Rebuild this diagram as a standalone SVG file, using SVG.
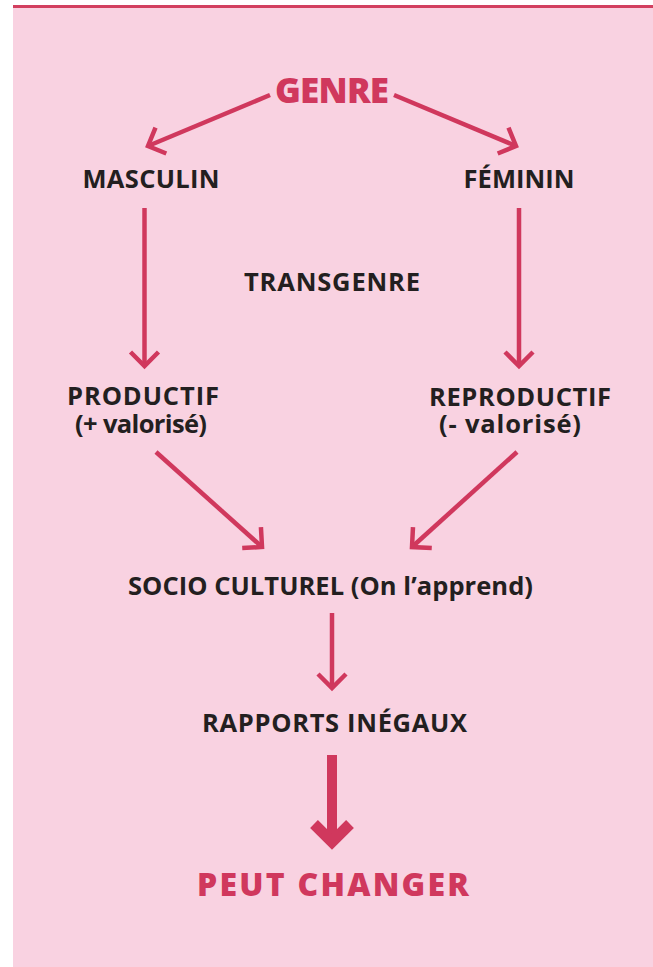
<svg xmlns="http://www.w3.org/2000/svg" width="653" height="967" viewBox="0 0 653 967">
<style>
.t{font-family:"Open Sans","Noto Sans","DejaVu Sans",sans-serif;font-weight:700;fill:#231f20;font-size:25.5px;text-anchor:middle}
.r{fill:#d0385d;font-weight:800}
.a{fill:none;stroke:#d0385d;stroke-width:4.5}
.h{fill:none;stroke:#d0385d;stroke-width:4.5;stroke-linejoin:miter}
</style>
<defs>
<marker id="chev" markerUnits="userSpaceOnUse" viewBox="-20 -20 40 40" markerWidth="40" markerHeight="40" refX="0" refY="0" orient="auto" overflow="visible">
<path class="h" d="M-14,-14 L0,0 L-14,14"/>
</marker>
</defs>
<rect x="13" y="8" width="640" height="959" fill="#f9d2e1"/>
<rect x="13" y="5" width="640" height="3" fill="#d23f5f"/>
<g id="connectors">
<path class="a" d="M270,95 L148,146" marker-end="url(#chev)"/>
<path class="a" d="M394,95 L516,146" marker-end="url(#chev)"/>
<path class="a" d="M144.5,208 L144.5,366" marker-end="url(#chev)"/>
<path class="a" d="M519,208 L519,366" marker-end="url(#chev)"/>
<path class="a" d="M156,452 L262,547" marker-end="url(#chev)"/>
<path class="a" d="M517,452 L412,547" marker-end="url(#chev)"/>
<path class="a" d="M332,613 L332,688" marker-end="url(#chev)"/>
<g id="thick-arrow">
<rect x="327" y="755" width="10" height="84" fill="#d0385d"/>
<polyline points="314,824 332,842 350,824" fill="none" stroke="#d0385d" stroke-width="11"/>
</g>
</g>
<g id="genre"><text class="t r" x="332" y="103" style="font-size:35px" textLength="114" lengthAdjust="spacing">GENRE</text></g>
<g id="masculin"><text class="t" x="151" y="188" textLength="137" lengthAdjust="spacing">MASCULIN</text></g>
<g id="feminin"><text class="t" x="519" y="188" textLength="111" lengthAdjust="spacing">FÉMININ</text></g>
<g id="transgenre"><text class="t" x="332" y="291" textLength="176" lengthAdjust="spacing">TRANSGENRE</text></g>
<g id="productif">
<text class="t"><tspan x="143" y="405" textLength="152" lengthAdjust="spacing">PRODUCTIF</tspan><tspan x="141" y="433" textLength="132" lengthAdjust="spacing">(+ valorisé)</tspan></text>
</g>
<g id="reproductif">
<text class="t"><tspan x="520" y="406" textLength="182" lengthAdjust="spacing">REPRODUCTIF</tspan><tspan x="510" y="433" textLength="142" lengthAdjust="spacing">(- valorisé)</tspan></text>
</g>
<g id="socio"><text class="t" x="330.5" y="595" textLength="405" lengthAdjust="spacing">SOCIO CULTUREL (On l’apprend)</text></g>
<g id="rapports"><text class="t" x="334.5" y="732" textLength="265" lengthAdjust="spacing">RAPPORTS INÉGAUX</text></g>
<g id="peut-changer"><text class="t r" x="333" y="896" style="font-size:32px" textLength="272" lengthAdjust="spacing">PEUT CHANGER</text></g>
</svg>
